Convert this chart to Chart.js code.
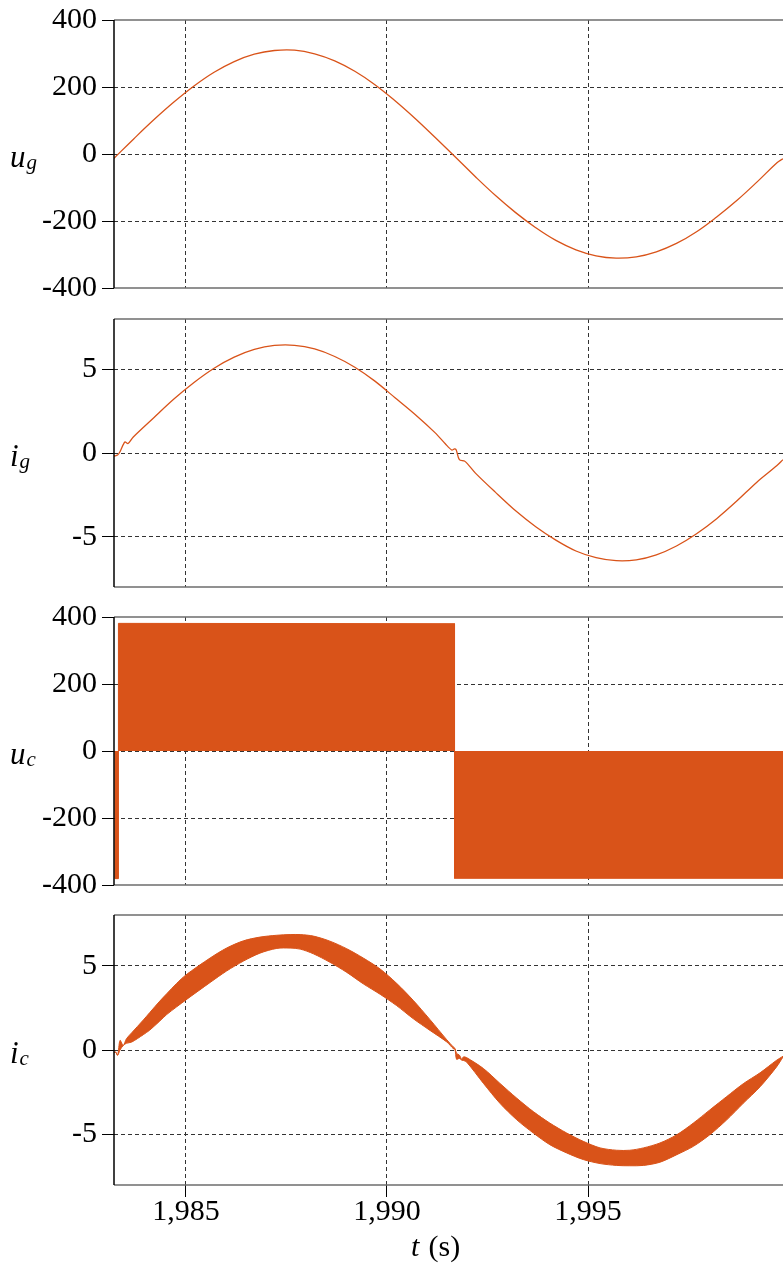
<!DOCTYPE html>
<html>
<head>
<meta charset="utf-8">
<script src="https://cdn.jsdelivr.net/npm/chart.js@4.4.1/dist/chart.umd.min.js"></script>
<style>
  html, body { margin: 0; padding: 0; background: #fff; }
  #wrap { position: relative; width: 783px; height: 1266px; overflow: hidden; }
  #wrap canvas { position: absolute; left: 0; }
</style>
</head>
<body>
<div id="wrap">
  <canvas id="ugChart" width="783" height="308" style="top:0px"></canvas>
  <canvas id="igChart" width="783" height="308" style="top:299px"></canvas>
  <canvas id="ucChart" width="783" height="308" style="top:597px"></canvas>
  <canvas id="icChart" width="783" height="371" style="top:895px"></canvas>
</div>
<script>
const tMin = 1983.21;
const tMax = 1999.85;

// grid voltage u_g
const timeUg = [1983.2, 1983.7, 1984.2, 1984.7, 1985.2, 1985.7, 1986.2, 1986.7, 1987.2, 1987.7,
  1988.2, 1988.7, 1989.2, 1989.7, 1990.2, 1990.7, 1991.2, 1991.7, 1992.2, 1992.7, 1993.2, 1993.7,
  1994.2, 1994.7, 1995.2, 1995.7, 1996.2, 1996.7, 1997.2, 1997.7, 1998.2, 1998.7, 1999.2, 1999.7, 1999.85];
const ug = [-14, 45, 102, 155, 203, 244, 276, 298, 309, 310,
  299, 278, 247, 207, 159, 106, 49, -9, -68, -124, -175, -220,
  -258, -286, -304, -311, -307, -292, -267, -232, -188, -139, -84, -26, -14];

// grid current i_g
const timeIg = [1983.21, 1983.3, 1983.36, 1983.48, 1983.56, 1983.69, 1984.2, 1984.7, 1985.2, 1985.7,
  1986.2, 1986.7, 1987.2, 1987.7, 1988.2, 1988.7, 1989.2, 1989.7, 1990.2, 1990.7, 1991.2, 1991.45,
  1991.61, 1991.68, 1991.72, 1991.8, 1991.94, 1992.2, 1992.7, 1993.2, 1993.7, 1994.2, 1994.7, 1995.2,
  1995.7, 1996.2, 1996.7, 1997.2, 1997.7, 1998.2, 1998.7, 1999.2, 1999.7, 1999.85];
const ig = [-0.18, -0.12, 0.08, 0.66, 0.57, 0.96, 2.11, 3.22, 4.21, 5.06,
  5.72, 6.18, 6.42, 6.43, 6.21, 5.76, 5.12, 4.29, 3.3, 2.3, 1.2, 0.55,
  0.18, 0.25, 0.2, -0.4, -0.5, -1.2, -2.35, -3.45, -4.4, -5.2, -5.85, -6.25,
  -6.43, -6.38, -6.08, -5.55, -4.82, -3.92, -2.87, -1.74, -0.75, -0.4];

// converter voltage u_c (envelope of the switching band)
const timeUc = [1983.24, 1983.24, 1983.32, 1983.32, 1991.68, 1991.68, 1999.85];
const ucEnv = [0, -381, -381, 381, 380, -380, -380];

// converter current i_c (upper / lower edge of the ripple band)
const timeIc = [1983.21, 1983.25, 1983.3, 1983.36, 1983.44, 1983.52, 1983.65, 1983.94, 1984.1, 1984.35,
  1984.52, 1984.77, 1985.0, 1985.6, 1986.01, 1986.43, 1986.84, 1987.26, 1987.59, 1987.84,
  1988.17, 1988.58, 1989.0, 1989.41, 1989.83, 1990.24, 1990.65, 1991.07, 1991.49, 1991.65,
  1991.69, 1991.73, 1991.8, 1991.86, 1991.9, 1991.98, 1992.4, 1992.81, 1993.23, 1993.64,
  1994.05, 1994.47, 1994.88, 1995.3, 1995.71, 1996.04, 1996.38, 1996.79, 1997.21, 1997.62,
  1998.03, 1998.45, 1998.86, 1999.28, 1999.69, 1999.85];
const icUpper = [-0.15, -0.12, -0.31, 0.57, 0.27, 0.67, 1.02, 1.78, 2.22, 2.9,
  3.33, 3.95, 4.45, 5.45, 6.04, 6.47, 6.69, 6.8, 6.84, 6.84,
  6.75, 6.45, 6.0, 5.45, 4.8, 3.95, 2.95, 1.8, 0.6, 0.18,
  0.1, -0.2, -0.3, -0.55, -0.41, -0.45, -1.1, -1.98, -2.86, -3.65,
  -4.33, -4.92, -5.41, -5.8, -5.94, -5.94, -5.8, -5.51, -5.02, -4.33,
  -3.55, -2.76, -2.0, -1.35, -0.61, -0.37];
const icLower = [-0.15, -0.12, -0.31, 0.0, 0.27, 0.4, 0.47, 0.91, 1.18, 1.72,
  2.1, 2.56, 2.97, 4.0, 4.68, 5.27, 5.74, 6.02, 6.04, 5.98,
  5.7, 5.2, 4.6, 3.92, 3.3, 2.63, 1.86, 1.16, 0.47, 0.08,
  0.05, -0.55, -0.5, -0.6, -0.62, -0.71, -1.98, -3.16, -4.14, -4.92,
  -5.61, -6.1, -6.49, -6.73, -6.84, -6.86, -6.84, -6.65, -6.2, -5.71,
  -5.02, -4.14, -3.16, -2.18, -1.0, -0.41];

const lineColor = "#D95319";
const serif = '"Liberation Serif", "Times New Roman", serif';

Chart.defaults.font.family = serif;
Chart.defaults.color = "#000";

function points(xs, ys) {
  return xs.map((x, i) => ({ x: x, y: ys[i] }));
}

// hide grid lines on the frame edges, keep tick marks
function gridColor(ctx) {
  const s = ctx.scale;
  if (ctx.tick && (ctx.tick.value === s.min || ctx.tick.value === s.max)) return "rgba(0,0,0,0)";
  return "#333";
}

const framePlugin = {
  id: "frame",
  afterDatasetsDraw(chart, args, opts) {
    const { ctx, chartArea: a } = chart;
    ctx.save();
    ctx.lineWidth = 1.5;
    ctx.strokeStyle = "#6e6e6e";
    ctx.beginPath();
    ctx.moveTo(a.left, a.top);
    ctx.lineTo(a.right, a.top);
    ctx.moveTo(a.left, a.bottom);
    ctx.lineTo(a.right, a.bottom);
    ctx.stroke();
    ctx.strokeStyle = "#000";
    ctx.beginPath();
    ctx.moveTo(a.left, a.top);
    ctx.lineTo(a.left, a.bottom);
    ctx.stroke();

    // side label, e.g. u with subscript g
    if (opts.text) {
      const y = (a.top + a.bottom) / 2 + 13;
      ctx.fillStyle = "#000";
      ctx.textBaseline = "alphabetic";
      ctx.textAlign = "left";
      ctx.font = "italic 31px " + serif;
      ctx.fillText(opts.text, 10, y);
      const w = ctx.measureText(opts.text).width;
      ctx.font = "italic 21px " + serif;
      ctx.fillText(opts.sub, 10 + w + 1, y + 2);
    }
    // x axis title on the last panel
    if (opts.xTitle) {
      const y = a.bottom + 71;
      ctx.font = "italic 30px " + serif;
      ctx.fillText("t", 411, y);
      ctx.font = "30px " + serif;
      ctx.fillText(" (s)", 421, y);
    }
    ctx.restore();
  },
};

function makePanel(id, datasets, yMin, yMax, yStep, label, isLast) {
  return new Chart(document.getElementById(id), {
    type: "line",
    data: { datasets: datasets },
    plugins: [framePlugin],
    options: {
      responsive: false,
      animation: false,
      layout: { padding: { top: 18, bottom: isLast ? 0 : 18, left: 0, right: 0 } },
      elements: { point: { radius: 0 } },
      plugins: {
        legend: { display: false },
        tooltip: { enabled: false },
        frame: { text: label[0], sub: label[1], xTitle: isLast },
      },
      scales: {
        x: {
          type: "linear",
          min: tMin,
          max: tMax,
          ticks: {
            display: isLast,
            stepSize: 5,
            includeBounds: false,
            padding: 0,
            font: { size: 30, lineHeight: 1 },
            callback: (v) => v.toLocaleString("en-US"),
          },
          grid: { color: gridColor, tickColor: "#000", drawTicks: isLast, tickLength: 12 },
          border: { display: false, dash: [4, 3] },
          afterFit: (s) => {
            s.height = isLast ? 81 : 0;
          },
        },
        y: {
          min: yMin,
          max: yMax,
          ticks: {
            stepSize: yStep,
            includeBounds: false,
            padding: 5,
            font: { size: 30, lineHeight: 1 },
          },
          grid: { color: gridColor, tickColor: "#000", tickLength: 12 },
          border: { display: false, dash: [4, 3] },
          afterFit: (s) => {
            s.width = 114;
          },
        },
      },
    },
  });
}

makePanel("ugChart", [{
  data: points(timeUg, ug),
  borderColor: lineColor,
  borderWidth: 1.3,
  tension: 0.4,
  fill: false,
}], -400, 400, 200, ["u", "g"], false);

makePanel("igChart", [{
  data: points(timeIg, ig),
  borderColor: lineColor,
  borderWidth: 1.3,
  tension: 0.3,
  fill: false,
}], -8, 8, 5, ["i", "g"], false);

makePanel("ucChart", [{
  data: points(timeUc, ucEnv),
  borderColor: lineColor,
  backgroundColor: lineColor,
  borderWidth: 1,
  tension: 0,
  fill: "origin",
}], -400, 400, 200, ["u", "c"], false);

makePanel("icChart", [
  {
    data: points(timeIc, icUpper),
    borderColor: lineColor,
    backgroundColor: lineColor,
    borderWidth: 1,
    tension: 0.3,
    fill: "+1",
  },
  {
    data: points(timeIc, icLower),
    borderColor: lineColor,
    borderWidth: 1,
    tension: 0.3,
    fill: false,
  },
], -8, 8, 5, ["i", "c"], true);
</script>
</body>
</html>
